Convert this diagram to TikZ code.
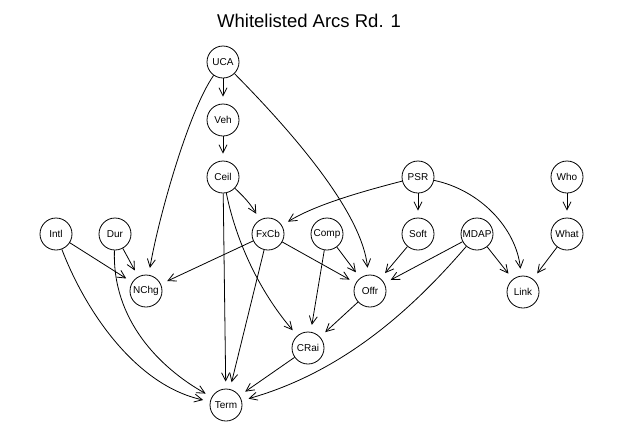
\documentclass[tikz,border=0pt]{standalone}
\usepackage{fontspec}
\setmainfont{Liberation Sans}
\usetikzlibrary{arrows.meta}
\tikzset{
  var/.style={circle, draw, line width=0.8pt, inner sep=0pt, minimum size=32pt, font=\fontsize{10}{12}\selectfont},
  arc/.style={line width=0.8pt, -{Straight Barb[length=8pt,width=8pt]}, shorten >=7pt},
}
\begin{document}
\begin{tikzpicture}[x=1pt, y=-1pt]
\fill[white] (0,0) rectangle (624,432);
\useasboundingbox (0,0) rectangle (624,432);
\node[font=\fontsize{18.5}{20}\selectfont] (title) at (309,21) {Whitelisted Arcs Rd. 1};
\node[var] (UCA) at (223,62) {UCA};
\node[var] (Veh) at (223,120) {Veh};
\node[var] (Ceil) at (223,177) {Ceil};
\node[var] (PSR) at (418,177) {PSR};
\node[var] (Who) at (567,177) {Who};
\node[var] (Intl) at (56,234) {Intl};
\node[var] (Dur) at (115,234) {Dur};
\node[var] (FxCb) at (268,234) {FxCb};
\node[var] (Comp) at (327,234) {Comp};
\node[var] (Soft) at (418,234) {Soft};
\node[var] (MDAP) at (477,234) {MDAP};
\node[var] (What) at (567,234) {What};
\node[var] (NChg) at (146,291) {NChg};
\node[var] (Offr) at (370,291) {Offr};
\node[var] (Link) at (523,292) {Link};
\node[var] (CRai) at (308,348) {CRai};
\node[var] (Term) at (226,405) {Term};
% straight arcs
\draw[arc] (UCA) -- (Veh);
\draw[arc] (Veh) -- (Ceil);
\draw[arc] (PSR) -- (Soft);
\draw[arc] (Who) -- (What);
\draw[arc] (What) -- (Link);
\draw[arc] (MDAP) -- (Link);
\draw[arc] (MDAP) -- (Offr);
\draw[arc] (Soft) -- (Offr);
\draw[arc] (Comp) -- (Offr);
\draw[arc] (Comp) -- (CRai);
\draw[arc] (FxCb) -- (Offr);
\draw[arc] (FxCb) -- (NChg);
\draw[arc] (FxCb) -- (Term);
\draw[arc] (Offr) -- (CRai);
\draw[arc] (CRai) -- (Term);
\draw[arc] (Intl) -- (NChg);
\draw[arc] (Dur) -- (NChg);
\draw[arc] (Ceil) -- (Term);
% curved arcs
\draw[arc] (UCA) .. controls (188,112) and (158,220) .. (NChg);
\draw[arc] (UCA) .. controls (300,140) and (362,215) .. (Offr);
\draw[arc] (Ceil) .. controls (238,250) and (265,298) .. (CRai);
\draw[arc] (Ceil) .. controls (243,196) and (250,203) .. (FxCb);
\draw[arc] (PSR) .. controls (360,192) and (315,205) .. (FxCb);
\draw[arc] (PSR) .. controls (480,190) and (516,228) .. (Link);
\draw[arc] (Intl) .. controls (85,310) and (135,385) .. (Term);
\draw[arc] (Dur) .. controls (112,320) and (160,368) .. (Term);
\draw[arc] (MDAP) .. controls (420,300) and (350,370) .. (Term);
\end{tikzpicture}
\end{document}
